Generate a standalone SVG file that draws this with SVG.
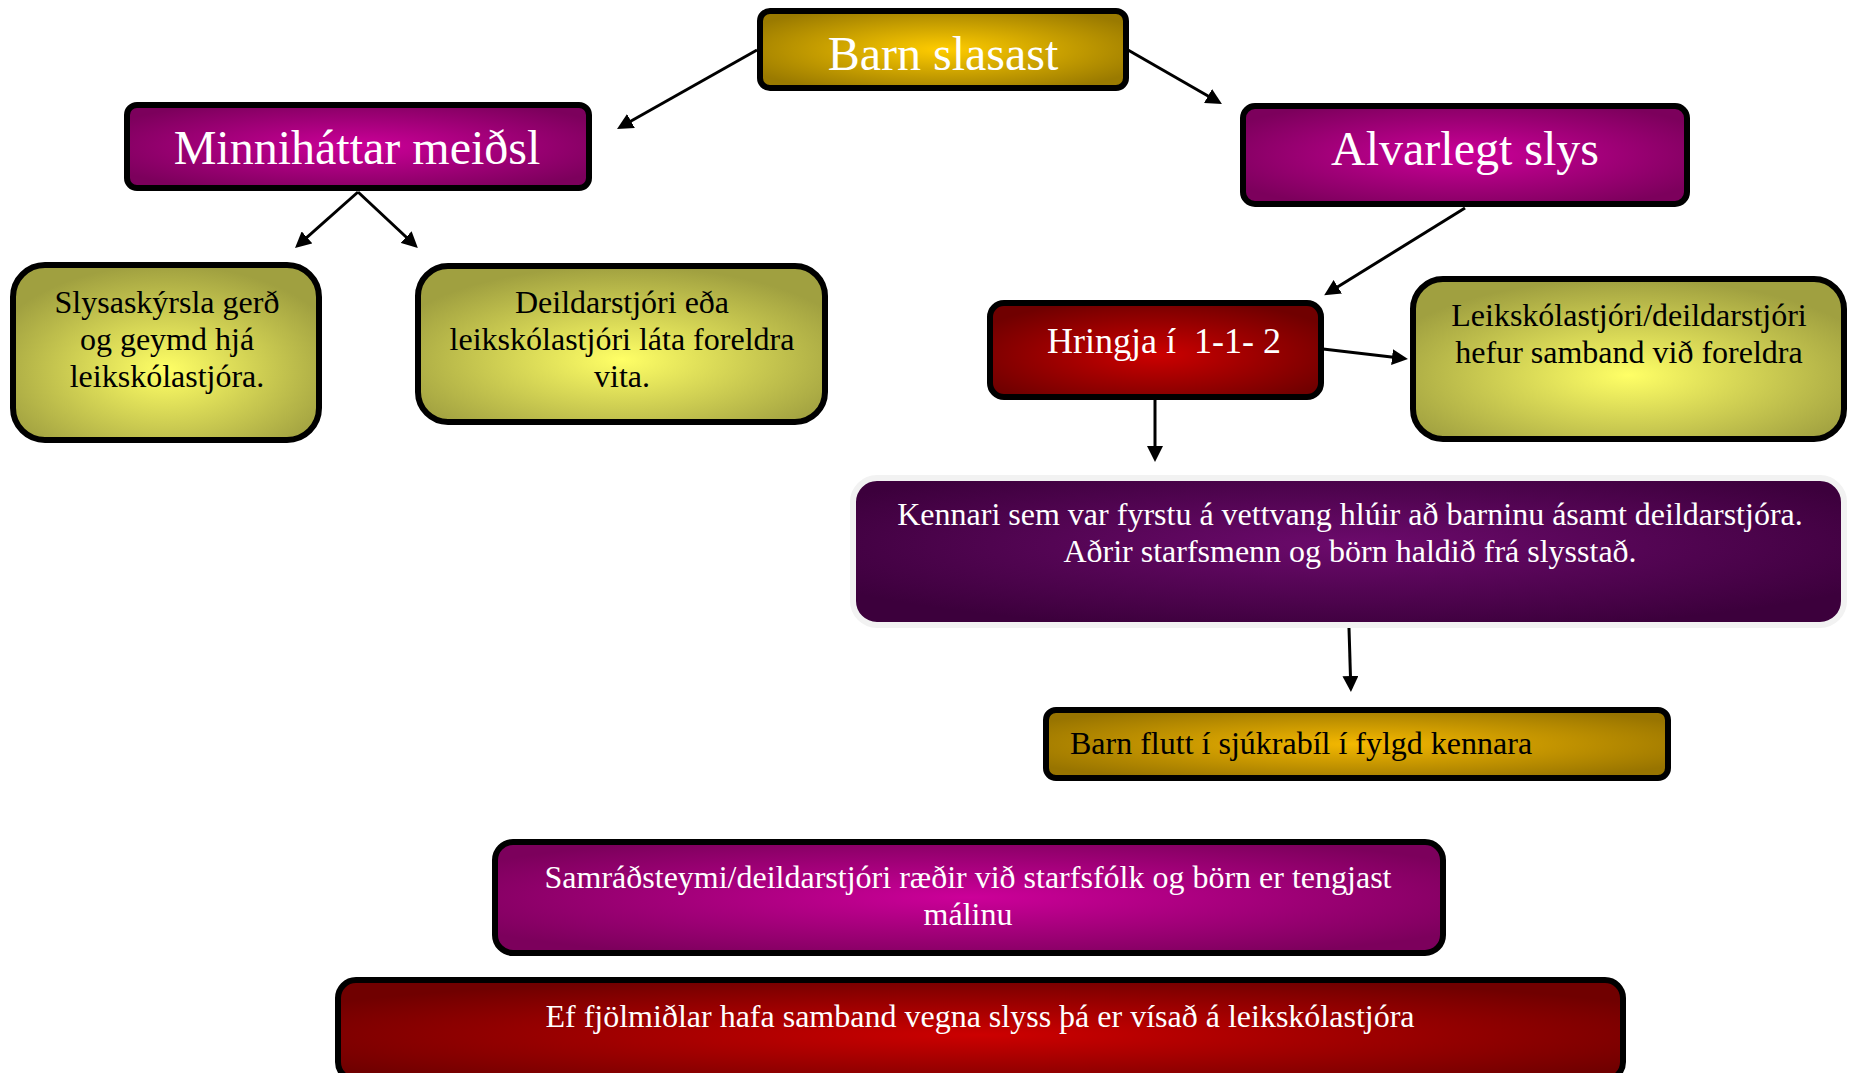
<svg xmlns="http://www.w3.org/2000/svg" width="1849" height="1073" viewBox="0 0 1849 1073">
<defs>
<radialGradient id="gGold" cx="0.5" cy="0.5" r="0.6">
<stop offset="0" stop-color="#ffcc00"/><stop offset="1" stop-color="#9a7a00"/></radialGradient>
<radialGradient id="gMag" cx="0.5" cy="0.5" r="0.6">
<stop offset="0" stop-color="#cc0099"/><stop offset="1" stop-color="#7c005c"/></radialGradient>
<radialGradient id="gYel" cx="0.5" cy="0.6" r="0.6">
<stop offset="0" stop-color="#ffff66"/><stop offset="1" stop-color="#a0a040"/></radialGradient>
<radialGradient id="gRed" cx="0.5" cy="0.55" r="0.6">
<stop offset="0" stop-color="#cc0000"/><stop offset="1" stop-color="#700000"/></radialGradient>
<radialGradient id="gPur" cx="0.5" cy="0.45" r="0.6">
<stop offset="0" stop-color="#6c0a6c"/><stop offset="1" stop-color="#3c003c"/></radialGradient>
<radialGradient id="gOr" cx="0.5" cy="0.5" r="0.6">
<stop offset="0" stop-color="#f4b800"/><stop offset="1" stop-color="#987400"/></radialGradient>
<marker id="ah" viewBox="0 0 16 16" refX="8" refY="8" markerWidth="16" markerHeight="16" markerUnits="userSpaceOnUse" orient="auto">
<path d="M0,0 L16,8 L0,16 z" fill="#000"/></marker>
</defs>
<style>
.box{stroke:#000;stroke-width:6}
.t{font-family:"Liberation Serif","Times New Roman",serif;font-size:32px;text-anchor:middle}
.w{fill:#fff}
.k{fill:#000}
.big{font-size:48px}
.c{stroke:#000;stroke-width:3;fill:none;marker-end:url(#ah)}
</style>
<rect width="1849" height="1073" fill="#fff"/>
<g id="connectors">
<line class="c" x1="757" y1="50" x2="624" y2="125"/>
<line class="c" x1="1128" y1="50" x2="1215" y2="100"/>
<line class="c" x1="358" y1="192" x2="301" y2="242.7"/>
<line class="c" x1="358" y1="192" x2="412" y2="242.5"/>
<line class="c" x1="1465" y1="208" x2="1331" y2="291"/>
<line class="c" x1="1323" y1="349" x2="1400" y2="358"/>
<line class="c" x1="1155" y1="400" x2="1155" y2="454"/>
<line class="c" x1="1349" y1="628" x2="1350.7" y2="684"/>
</g>
<g id="barn-slasast">
<rect class="box" x="760" y="11" width="366" height="77" rx="10" fill="url(#gGold)"/>
<text class="t w big" x="943" y="70">Barn slasast</text>
</g>
<g id="minnihattar">
<rect class="box" x="127" y="105" width="462" height="83" rx="10" fill="url(#gMag)"/>
<text class="t w big" x="357" y="164">Minniháttar meiðsl</text>
</g>
<g id="alvarlegt">
<rect class="box" x="1243" y="106" width="444" height="98" rx="12" fill="url(#gMag)"/>
<text class="t w big" x="1465" y="165">Alvarlegt slys</text>
</g>
<g id="slysaskyrsla">
<rect class="box" x="13" y="265" width="306" height="175" rx="32" fill="url(#gYel)"/>
<text class="t k" x="167" y="313">Slysaskýrsla gerð</text>
<text class="t k" x="167" y="350">og geymd hjá</text>
<text class="t k" x="167" y="387">leikskólastjóra.</text>
</g>
<g id="deildarstjori">
<rect class="box" x="418" y="266" width="407" height="156" rx="30" fill="url(#gYel)"/>
<text class="t k" x="622" y="313">Deildarstjóri eða</text>
<text class="t k" x="622" y="350">leikskólastjóri láta foreldra</text>
<text class="t k" x="622" y="387">vita.</text>
</g>
<g id="hringja">
<rect class="box" x="990" y="303" width="331" height="94" rx="14" fill="url(#gRed)"/>
<text class="t w" x="1164" y="353" font-size="36" style="font-size:36px;white-space:pre">Hringja í  1-1- 2</text>
</g>
<g id="leikskolastjori">
<rect class="box" x="1413" y="279" width="431" height="160" rx="30" fill="url(#gYel)"/>
<text class="t k" x="1629" y="326">Leikskólastjóri/deildarstjóri</text>
<text class="t k" x="1629" y="363">hefur samband við foreldra</text>
</g>
<g id="kennari">
<rect x="853" y="478" width="991" height="147" rx="24" fill="url(#gPur)" stroke="#f2f2f2" stroke-width="6"/>
<text class="t w" x="1350" y="525">Kennari sem var fyrstu á vettvang hlúir að barninu ásamt deildarstjóra.</text>
<text class="t w" x="1350" y="562">Aðrir starfsmenn og börn haldið frá slysstað.</text>
</g>
<g id="barn-flutt">
<rect class="box" x="1046" y="710" width="622" height="68" rx="10" fill="url(#gOr)"/>
<text class="t k" x="1070" y="754" style="text-anchor:start">Barn flutt í sjúkrabíl í fylgd kennara</text>
</g>
<g id="samradsteymi">
<rect class="box" x="495" y="842" width="948" height="111" rx="18" fill="url(#gMag)"/>
<text class="t w" x="968" y="888">Samráðsteymi/deildarstjóri ræðir við starfsfólk og börn er tengjast</text>
<text class="t w" x="968" y="925">málinu</text>
</g>
<g id="fjolmidlar">
<rect class="box" x="338" y="980" width="1285" height="100" rx="18" fill="url(#gRed)"/>
<text class="t w" x="980" y="1027">Ef fjölmiðlar hafa samband vegna slyss þá er vísað á leikskólastjóra</text>
</g>
</svg>
